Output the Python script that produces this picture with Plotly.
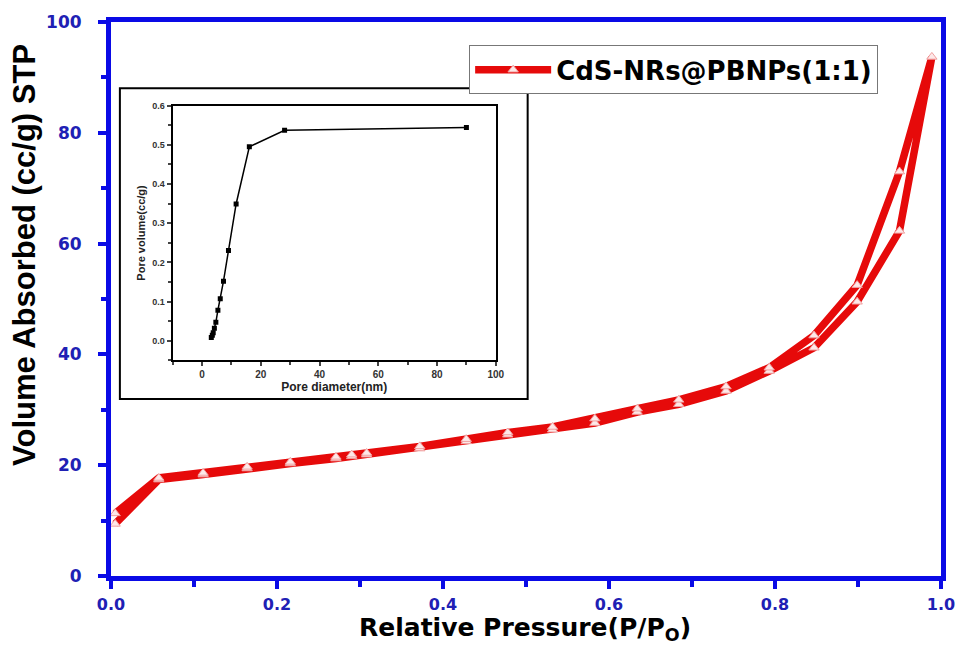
import plotly.graph_objects as go

# Isotherm: adsorption branch then desorption branch (single loop series)
ads_p = [0.005, 0.0576, 0.111, 0.164, 0.216, 0.271, 0.290, 0.308, 0.372, 0.428, 0.478,
         0.532, 0.583, 0.634, 0.684, 0.741, 0.793, 0.847, 0.899, 0.950, 0.989]
ads_v = [9.4, 17.4, 18.3, 19.4, 20.3, 21.2, 21.6, 21.9, 23.0, 24.3, 25.5,
         26.4, 27.6, 29.6, 31.0, 33.4, 37.0, 41.2, 49.5, 62.3, 93.7]
des_p = [0.950, 0.899, 0.847, 0.793, 0.741, 0.684, 0.634, 0.583, 0.532, 0.478, 0.428,
         0.372, 0.308, 0.290, 0.271, 0.216, 0.164, 0.111, 0.0576, 0.005]
des_v = [73.0, 52.5, 43.4, 37.6, 34.2, 31.8, 30.2, 28.4, 26.9, 25.9, 24.7,
         23.4, 22.2, 21.9, 21.5, 20.6, 19.7, 18.6, 17.7, 11.3]

# Inset: pore size distribution
pore_d = [3.15, 3.5, 3.8, 4.2, 4.7, 5.4, 6.2, 7.3, 9.0, 11.6, 16.1, 28.1, 90.0]
pore_v = [0.008, 0.014, 0.020, 0.032, 0.047, 0.078, 0.107, 0.152, 0.230, 0.349, 0.495, 0.537, 0.544]

series_name = "CdS-NRs@PBNPs(1:1)"
x_title = "Relative Pressure(P/P<sub>O</sub>)"
y_title = "Volume Absorbed (cc/g) STP"

BLUE = "#0a0ae6"
LBLUE = "#2020b4"
FONT = "Liberation Sans, Arial, sans-serif"
WIDE = "DejaVu Sans, Verdana, sans-serif"

fig = go.Figure()
fig.add_trace(go.Scatter(
    x=ads_p + des_p, y=ads_v + des_v, mode="lines+markers", name=series_name,
    line=dict(color="#e60a0a", width=7.5),
    marker=dict(symbol="triangle-up", size=9, color="#fde8e8",
                line=dict(color="#f0a0a0", width=1)),
    xaxis="x", yaxis="y",
))
fig.add_trace(go.Scatter(
    x=pore_d, y=pore_v, mode="lines+markers", showlegend=False,
    line=dict(color="black", width=1.5),
    marker=dict(symbol="square", size=5, color="black"),
    xaxis="x2", yaxis="y2",
))

axis_common = dict(showgrid=False, zeroline=False, showline=True, linecolor=BLUE,
                   linewidth=5, mirror=True, ticks="outside", tickcolor=BLUE,
                   tickwidth=4, ticklen=8)

fig.update_layout(
    width=967, height=648,
    margin=dict(l=111, r=17, t=22, b=72),
    paper_bgcolor="white", plot_bgcolor="white",
    xaxis=dict(range=[0, 1], dtick=0.2, tickformat=".1f", ticklabelstandoff=2,
               tickfont=dict(family=WIDE, size=16, color=LBLUE, weight="bold"),
               minor=dict(dtick=0.1, ticks="outside", ticklen=6, tickwidth=4, tickcolor=BLUE),
               **axis_common),
    yaxis=dict(range=[0, 100], dtick=20, ticklabelstandoff=13,
               tickfont=dict(family=WIDE, size=17, color=LBLUE, weight="bold"),
               minor=dict(dtick=10, ticks="outside", ticklen=5, tickwidth=4, tickcolor=BLUE),
               **axis_common),
    xaxis2=dict(domain=[0.0743, 0.4636], anchor="y2", range=[-10, 100], dtick=20,
                showgrid=False, zeroline=False, showline=True, linecolor="black",
                linewidth=2, mirror=True, ticks="outside", ticklen=4, tickwidth=1.5,
                minor=dict(dtick=10, ticks="outside", ticklen=3),
                tickfont=dict(family=FONT, size=10, color="#333", weight="bold"),
                title=dict(text="Pore diameter(nm)", standoff=2,
                           font=dict(family=FONT, size=12, color="#222", weight="bold"))),
    yaxis2=dict(domain=[0.3894, 0.849], anchor="x2", range=[-0.05, 0.6], dtick=0.1,
                tickformat=".1f",
                showgrid=False, zeroline=False, showline=True, linecolor="black",
                linewidth=2, mirror=True, ticks="outside", ticklen=4, tickwidth=1.5,
                minor=dict(dtick=0.05, ticks="outside", ticklen=3),
                tickfont=dict(family=FONT, size=9, color="#333", weight="bold"),
                title=dict(text="Pore volume(cc/g)", standoff=4,
                           font=dict(family=FONT, size=11, color="#222", weight="bold"))),
    legend=dict(x=0.4315, y=0.958, xanchor="left", yanchor="top",
                bordercolor="#777", borderwidth=1, bgcolor="white",
                itemwidth=76, tracegroupgap=0,
                font=dict(family=WIDE, size=26, color="black", weight="bold")),
    shapes=[dict(type="rect", xref="paper", yref="paper", x0=0.0107, x1=0.502,
                 y0=0.3195, y1=0.8803, line=dict(color="black", width=2),
                 fillcolor="white", layer="below")],
    annotations=[
        dict(text=y_title, xref="paper", yref="paper", x=-0.104, y=0.579,
             xanchor="center", yanchor="middle", textangle=-90, showarrow=False,
             font=dict(family=FONT, size=31, color="black", weight="bold")),
        dict(text=x_title, xref="paper", yref="paper", x=0.499, y=-0.128,
             xanchor="center", yanchor="bottom", showarrow=False,
             font=dict(family=WIDE, size=25, color="black", weight="bold")),
    ],
)

fig.write_html("out.html")
